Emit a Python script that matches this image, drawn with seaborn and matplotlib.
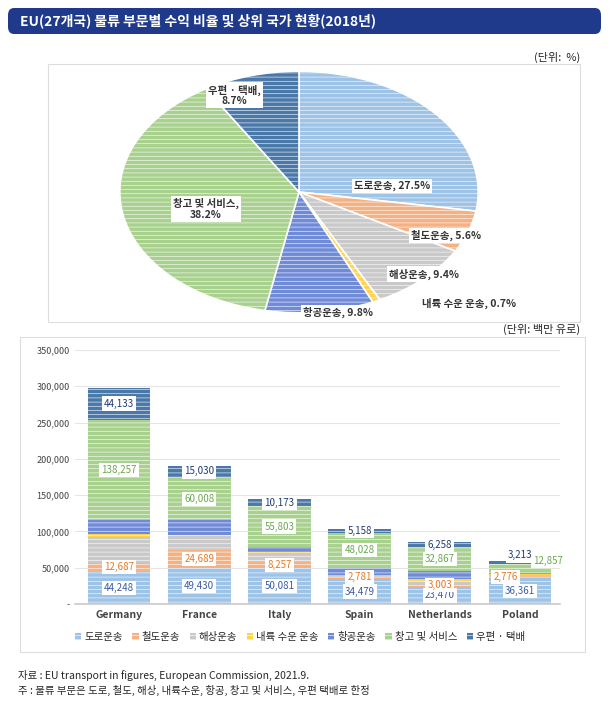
import matplotlib
matplotlib.use("Agg")
import matplotlib.pyplot as plt
import seaborn as sns
import numpy as np
import pandas as pd
from matplotlib.patches import FancyBboxPatch, Rectangle

sns.set_theme(style="white")
plt.rcParams['font.family'] = ['Noto Sans CJK KR', 'DejaVu Sans']
plt.rcParams['hatch.color'] = 'white'
plt.rcParams['hatch.linewidth'] = 0.4

sectors = ['도로운송', '철도운송', '해상운송', '내륙 수운 운송', '항공운송', '창고 및 서비스', '우편 · 택배']
pie_share = [27.5, 5.6, 9.4, 0.7, 9.8, 38.2, 8.7]
colors = ['#9DC3E6', '#F4B183', '#C9C9C9', '#FFD34D', '#6F8BD8', '#A9D18E', '#4A78A8']
txtcols = ['#3B5BA5', '#E87722', '#888888', '#C9A000', '#3B5BA5', '#6AA84F', '#1F3B73']

countries = ['Germany', 'France', 'Italy', 'Spain', 'Netherlands', 'Poland']
road = [44248, 49430, 50081, 34479, 23470, 36361]
rail = [12687, 24689, 8257, 2781, 3003, 2776]
sea = [36000, 20000, 12500, 2500, 4500, 1500]
inland = [3000, 1000, 500, 300, 4000, 200]
air = [20000, 20000, 7500, 10000, 11000, 2000]
warehouse = [138257, 60008, 55803, 48028, 32867, 12857]
post = [44133, 15030, 10173, 5158, 6258, 3213]
series = [road, rail, sea, inland, air, warehouse, post]
labeled = {0: road, 1: rail, 5: warehouse, 6: post}

W, H = 609, 712
def fx(px): return px / W
def fy(py): return 1 - py / H

fig = plt.figure(figsize=(6.09, 7.12), dpi=100)
fig.patches.append(FancyBboxPatch((fx(8), fy(34)), fx(593), 26 / H, boxstyle="round,pad=0,rounding_size=0.01",
                                  transform=fig.transFigure, facecolor='#1F3A8A', edgecolor='none'))
fig.text(fx(20), fy(21), 'EU(27개국) 물류 부문별 수익 비율 및 상위 국가 현황(2018년)', color='white',
         fontsize=10, fontweight='bold', va='center')
fig.text(fx(580), fy(57), '(단위:  %)', ha='right', va='center', fontsize=8)
fig.patches.append(Rectangle((fx(48), fy(322)), fx(532), 258 / H, transform=fig.transFigure,
                             facecolor='none', edgecolor='#DDDDDD', lw=0.8))
fig.text(fx(580), fy(329), '(단위: 백만 유로)', ha='right', va='center', fontsize=8)
fig.patches.append(Rectangle((fx(20), fy(652)), fx(565), 315 / H, transform=fig.transFigure,
                             facecolor='none', edgecolor='#DDDDDD', lw=0.8))

# pie (elliptical)
axp = fig.add_axes([fx(118), fy(314), fx(362), 244 / H])
axp.pie(pie_share, colors=colors, startangle=90, counterclock=False,
        wedgeprops=dict(edgecolor='white', linewidth=1.2, hatch='----'))
axp.set_aspect('auto')
axp.set_xlim(-1.01, 1.01)
axp.set_ylim(-1.01, 1.01)
pos = [(0.52, 0.05), (0.82, -0.36), (0.70, -0.68), (0.95, -0.92), (0.22, -1.0), (-0.52, -0.14), (-0.36, 0.80)]
plabels = ['도로운송, 27.5%', '철도운송, 5.6%', '해상운송, 9.4%', '내륙 수운 운송, 0.7%', '항공운송, 9.8%',
           '창고 및 서비스,\n38.2%', '우편 · 택배,\n8.7%']
for (x, y), t in zip(pos, plabels):
    axp.text(x, y, t, ha='center', va='center', fontsize=7.5, fontweight='bold', color='#333333',
             bbox=dict(facecolor='white', edgecolor='none', pad=1.5), linespacing=1.1)

# bars
ax = fig.add_axes([fx(75), fy(604), fx(485), 254 / H])
bottom = np.zeros(len(countries))
for i, (s, vals) in enumerate(zip(sectors, series)):
    ax.bar(np.arange(len(countries)), vals, bottom=bottom, width=0.78, color=colors[i],
           hatch='----', edgecolor='white', linewidth=0, label=s)
    if i in labeled:
        for j, v in enumerate(vals):
            y = bottom[j] + v / 2
            x = j
            if countries[j] == 'Poland' and i == 5:
                x, y = j + 0.35, bottom[j] + v + 3000
            elif countries[j] == 'Poland' and i == 6:
                y = bottom[j] + v + 8000
            elif countries[j] == 'Poland' and i == 1:
                x = j - 0.18
            elif countries[j] in ('Spain', 'Netherlands') and i == 1:
                y = bottom[j] + v / 2 + 1500
            ax.text(x, y, f'{v:,}', ha='center', va='center', fontsize=7, color=txtcols[i],
                    bbox=dict(facecolor='white', edgecolor='none', pad=1.5))
    bottom += np.array(vals)
sns.despine(ax=ax, left=True)
ax.set_ylim(0, 350000)
ax.set_xlim(-0.55, 5.5)
ax.set_yticks(range(0, 350001, 50000))
ax.set_yticklabels(['-'] + [f'{v:,}' for v in range(50000, 350001, 50000)], fontsize=6.5, color='#444444')
ax.yaxis.grid(True, color='#E5E5E5', lw=0.8)
ax.set_axisbelow(True)
ax.set_xticks(range(len(countries)))
ax.set_xticklabels(countries, fontsize=7.5, fontweight='bold', color='#444444')
ax.tick_params(axis='both', length=0, pad=4)
ax.spines['bottom'].set_color('#CCCCCC')
h, l = ax.get_legend_handles_labels()
fig.legend(h, l, loc='center', bbox_to_anchor=(fx(300), fy(637)), ncol=7, frameon=False, fontsize=7.5,
           handlelength=0.6, handleheight=0.6, columnspacing=0.9, handletextpad=0.3)

fig.text(fx(18), fy(675), '자료 : EU transport in figures, European Commission, 2021.9.', fontsize=7.5, va='center')
fig.text(fx(18), fy(690), '주 : 물류 부문은 도로, 철도, 해상, 내륙수운, 항공, 창고 및 서비스, 우편 택배로 한정', fontsize=7.5, va='center')
fig.savefig('out.png', dpi=100)
